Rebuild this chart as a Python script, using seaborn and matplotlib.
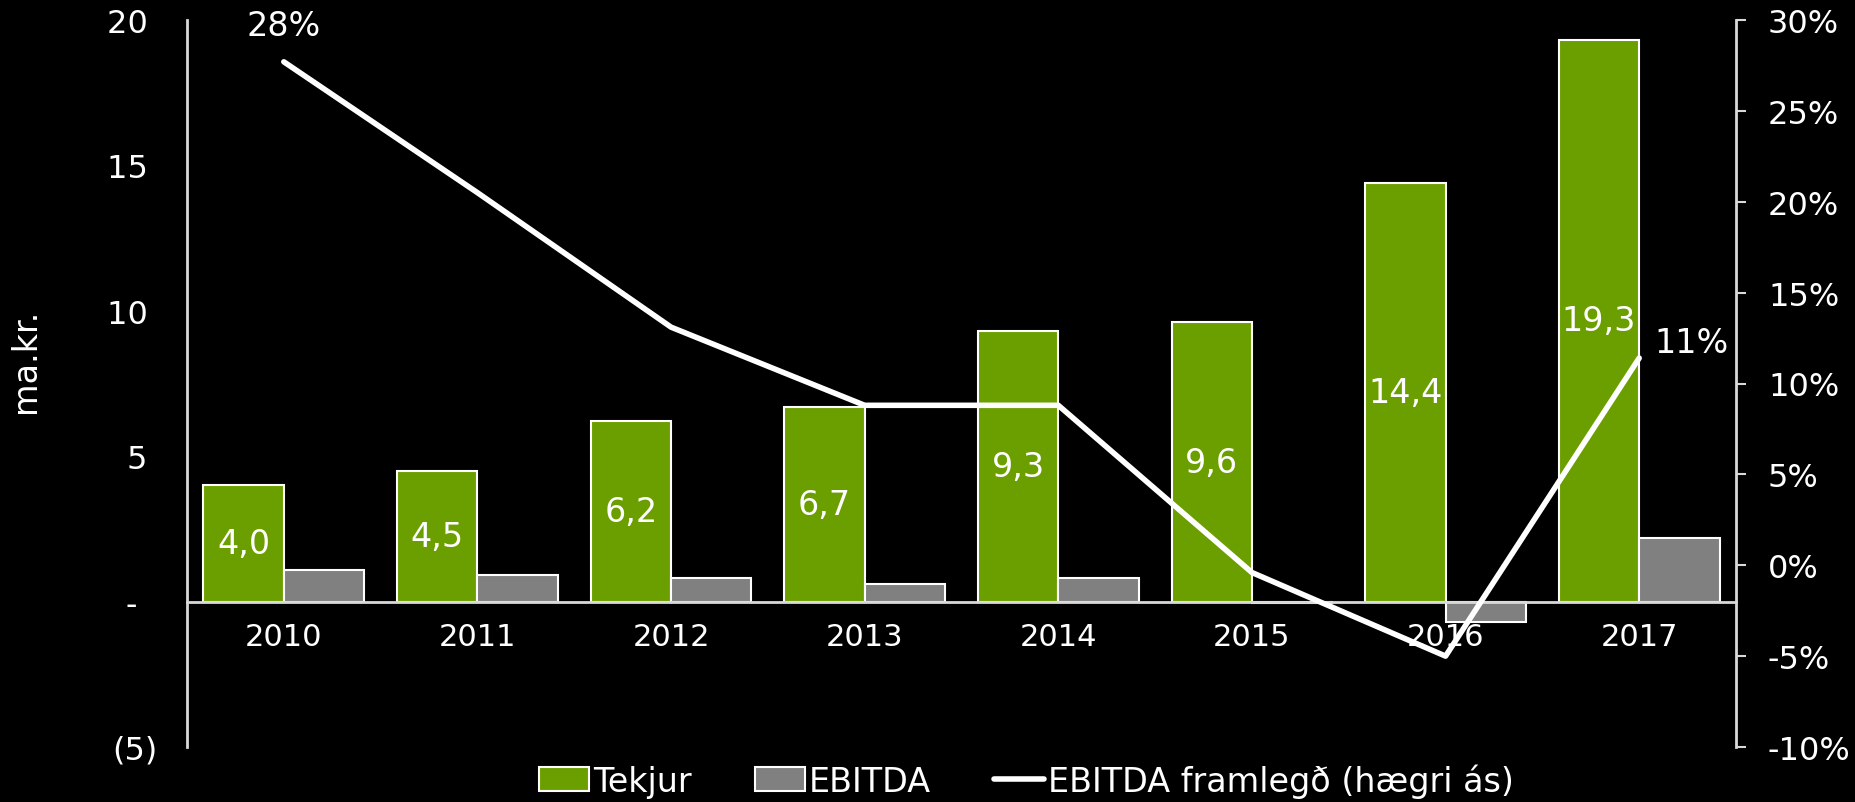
import numpy as np
import pandas as pd
import seaborn as sns
import matplotlib
matplotlib.use("Agg")
import matplotlib.pyplot as plt
from matplotlib.lines import Line2D
from matplotlib.patches import Patch

# data
years = ["2010", "2011", "2012", "2013", "2014", "2015", "2016", "2017"]
tekjur = [4.0, 4.5, 6.2, 6.7, 9.3, 9.6, 14.4, 19.3]
ebitda = [1.1, 0.9, 0.8, 0.6, 0.8, -0.04, -0.7, 2.2]
margin = [0.277, 0.205, 0.131, 0.088, 0.088, -0.004, -0.050, 0.114]

left_ticks = [-5, 0, 5, 10, 15, 20]
left_labels = ["(5)", "-  ", "5 ", "10 ", "15 ", "20 "]
right_ticks = [-0.10, -0.05, 0.0, 0.05, 0.10, 0.15, 0.20, 0.25, 0.30]

green = "#6b9f00"
gray = "#808080"
axis_col = "#d9d9d9"

sns.set_theme(style="dark", rc={
    "figure.facecolor": "black",
    "axes.facecolor": "black",
    "savefig.facecolor": "black",
    "text.color": "white",
    "xtick.color": "white",
    "ytick.color": "white",
    "axes.labelcolor": "white",
})
plt.rcParams["font.family"] = ["DejaVu Sans"]

df = pd.DataFrame({
    "year": years * 2,
    "value": tekjur + ebitda,
    "series": ["Tekjur"] * len(years) + ["EBITDA"] * len(years),
})

fig = plt.figure(figsize=(18.56, 8.03), dpi=100)
ax = fig.add_axes([187 / 1856, 1 - 748 / 803, (1736 - 187) / 1856, (748 - 21) / 803])

sns.barplot(data=df, x="year", y="value", hue="series", palette=[green, gray],
            saturation=1, width=0.83, edgecolor="white", linewidth=1.5, ax=ax, legend=False)

ax.set_xlim(-0.5, 7.5)
ax.set_ylim(-5, 20)
ax.set_yticks(left_ticks)
ax.set_yticklabels(left_labels)
ax.set_xlabel("")
ax.set_ylabel("")
ax.grid(False)
ax.tick_params(axis="y", length=0, pad=21, labelsize=23)
ax.tick_params(axis="x", length=0, pad=15, labelsize=22)
ax.spines["bottom"].set_position(("data", 0))
ax.spines["bottom"].set_color(axis_col)
ax.spines["bottom"].set_linewidth(2)
ax.spines["left"].set_color(axis_col)
ax.spines["left"].set_linewidth(2)
ax.spines["top"].set_visible(False)
ax.spines["right"].set_visible(False)

# value labels in green bars
labels = [f"{v:.1f}".replace(".", ",") for v in tekjur]
ax.bar_label(ax.containers[0], labels=labels, label_type="center",
             color="white", fontsize=24)

# margin line on right axis
ax2 = ax.twinx()
sns.lineplot(x=np.arange(len(years)), y=margin, color="white", linewidth=4, ax=ax2)
ax2.set_ylim(-0.10, 0.30)
ax2.set_yticks(right_ticks)
ax2.set_yticklabels([f"{t * 100:.0f}%" for t in right_ticks])
ax2.tick_params(axis="y", length=7, width=1.5, color=axis_col, pad=16, labelsize=23, direction="out")
ax2.grid(False)
for s in ["top", "left", "bottom"]:
    ax2.spines[s].set_visible(False)
ax2.spines["right"].set_color(axis_col)
ax2.spines["right"].set_linewidth(2)

ax2.annotate(f"{margin[0] * 100:.0f}%", (0, margin[0]), xytext=(0, 26),
             textcoords="offset points", ha="center", va="center", fontsize=24, color="white")
ax2.annotate(f"{margin[-1] * 100:.0f}%", (7, margin[-1]), xytext=(11, 11),
             textcoords="offset points", ha="left", va="center", fontsize=24, color="white")

fig.text(26 / 1856, 1 - 361 / 803, "ma.kr.", rotation=90, ha="center", va="center",
         fontsize=24, color="white")

handles = [
    Patch(facecolor=green, edgecolor="white", linewidth=1.5, label="Tekjur"),
    Patch(facecolor=gray, edgecolor="white", linewidth=1.5, label="EBITDA"),
    Line2D([0], [0], color="white", linewidth=4, label="EBITDA framlegð (hægri ás)"),
]
fig.legend(handles=handles, loc="center", bbox_to_anchor=(0.553, 0.027), ncol=3,
           frameon=False, fontsize=24, handlelength=1.5, handleheight=0.75,
           handletextpad=0.12, columnspacing=1.9, labelcolor="white")

fig.savefig("out.png", dpi=100, facecolor="black")
